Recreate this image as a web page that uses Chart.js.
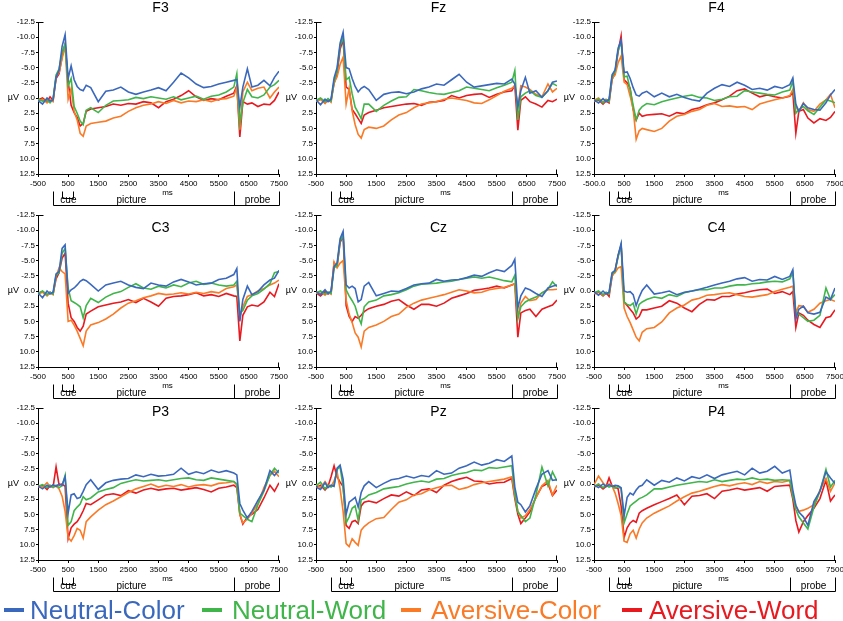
<!DOCTYPE html>
<html>
<head>
<meta charset="utf-8">
<script src="https://cdn.jsdelivr.net/npm/chart.js@4.4.1/dist/chart.umd.min.js"></script>
<style>
body { margin: 0; background: #fff; width: 843px; height: 621px; overflow: hidden; position: relative; font-family: "Liberation Sans", Arial, sans-serif; }
canvas { position: absolute; }
.key { position: absolute; top: 597px; font-size: 26px; line-height: 26px; white-space: nowrap; }
.bar { position: absolute; top: 608px; width: 20px; height: 4px; }
</style>
</head>
<body>
<script>
// sample times (ms) shared by every waveform
const times = [-500,-350,-200,-100,0, 100,200,300,400,500, 600,700,800,900,1000,
  1100,1250,1500,1750,2000, 2250,2500,2750,3000,3250, 3500,3750,4000,4250,4500,
  4750,5000,5250,5500,5750, 6000,6100,6200,6300,6450, 6600,6800,7000,7200,7350, 7500];

const xTicks = [-500, 500, 1500, 2500, 3500, 4500, 5500, 6500, 7500];
const xTickLabels = ['-500', '500', '1500', '2500', '3500', '4500', '5500', '6500', '7500'];
const yTicks = [-12.5, -10, -7.5, -5, -2.5, 0, 2.5, 5, 7.5, 10, 12.5];
const yTickLabels = ['-12.5', '-10.0', '-7.5', '-5.0', '-2.5', '0.0', '2.5', '5.0', '7.5', '10.0', '12.5'];

const electrodes = ['F3', 'Fz', 'F4', 'C3', 'Cz', 'C4', 'P3', 'Pz', 'P4'];
const conditions = ['Neutral-Color', 'Neutral-Word', 'Aversive-Color', 'Aversive-Word'];
const colors = ['#3a68bd', '#3fb54a', '#fa7a26', '#e8191f'];

// phases under each panel (ms)
const phaseEdges = [0, 6000, 7500];
const cueEdges = [300, 667];
const phaseLabels = [['cue', 510], ['picture', 2600], ['probe', 6790]];

// µV, negative up. NC = Neutral-Color, NW = Neutral-Word, AC = Aversive-Color, AW = Aversive-Word
const F3_NC = [0.4,1.0,0.0,0.5,0.3, -3.4,-4.6,-8.5,-10.4,-3.2, -5.3,-3.0,-1.9,-1.4,-1.2, -2.1,-1.7,0.6,-1.1,-1.3, -1.8,-1.0,-0.6,-1.0,-1.3, -1.7,-1.2,-2.6,-4.1,-3.3, -2.3,-1.7,-1.9,-2.3,-2.6, -2.9,-3.0,1.5,-1.8,-4.8, -1.8,-2.1,-2.9,-2.0,-3.4, -4.4];
const F3_NW = [0.2,0.5,0.3,0.8,0.2, -3.8,-4.8,-7.5,-8.9,-2.0, -3.2,1.4,2.5,3.8,4.4, 2.0,1.6,2.4,1.2,0.5, 0.4,0.3,-0.1,0.1,-0.2, 0.0,0.2,-0.2,0.3,0.0, -0.3,0.2,-0.3,-0.5,-1.0, -1.8,-4.0,4.2,0.8,-1.4, -0.2,0.0,-0.5,-1.8,-2.2, -2.9];
const F3_AC = [0.5,0.2,0.8,0.3,0.6, -3.5,-4.2,-6.5,-8.6,0.2, -1.6,2.2,3.6,5.8,6.3, 4.6,4.2,4.0,3.8,3.3, 3.0,2.2,1.6,1.2,1.0, 0.6,0.9,0.4,0.8,0.5, 0.6,0.3,0.6,0.2,0.1, -0.3,-1.8,5.2,-1.0,-2.6, -1.2,-1.6,-1.8,0.0,-1.0, -1.8];
const F3_AW = [0.3,0.0,0.6,-0.2,0.4, -3.2,-4.0,-6.8,-8.9,-2.8, 1.2,2.4,3.2,4.6,4.2, 2.2,1.8,1.6,1.4,1.0, 1.2,0.9,1.0,0.6,0.8, 1.6,0.6,0.2,-0.4,-1.2, -0.2,0.4,0.1,0.3,-0.3, -0.8,-2.0,6.4,0.6,1.0, 0.8,1.4,1.0,1.1,0.4, -1.0];

const Fz_NC = [0.3,1.1,0.2,0.6,0.2, -3.3,-5.0,-9.0,-10.8,-5.0, -4.8,-3.2,-1.9,-1.0,-1.6, -1.9,-1.4,0.4,-0.6,-0.9, -1.0,-0.7,-1.0,-1.5,-1.8, -2.3,-2.1,-3.0,-3.9,-2.6, -1.8,-2.0,-2.2,-2.4,-2.3, -3.1,-2.3,1.5,-1.2,-3.4, -0.8,-1.2,-0.1,-1.2,-2.6, -2.8];
const Fz_NW = [0.4,0.0,0.6,0.1,0.5, -2.8,-4.5,-8.6,-10.0,-3.0, -3.4,-0.7,1.5,2.4,3.4, 1.0,1.0,2.2,1.2,0.5, -0.1,-0.2,-1.4,-1.2,-0.9, -0.7,-0.6,-0.9,-1.2,-1.8, -1.6,-1.4,-1.2,-1.7,-2.1, -2.6,-4.5,3.6,-0.2,-0.8, -1.2,-0.4,-0.1,-1.2,-2.4, -2.0];
const Fz_AC = [0.6,0.2,0.9,0.3,0.7, -2.5,-3.5,-5.5,-6.7,1.0, -1.6,2.1,4.4,6.0,6.6, 5.2,4.8,5.0,4.6,3.6, 2.8,2.4,1.6,1.0,0.8, 0.6,0.2,0.0,0.2,0.4, 0.8,0.9,0.3,-0.4,-1.1, -1.6,-2.0,1.5,-2.0,-1.8, -1.4,-0.6,-0.2,-2.3,-1.0, -1.6];
const Fz_AW = [0.5,0.2,0.8,0.4,0.3, -2.4,-4.0,-8.0,-9.6,-1.8, -1.4,1.9,2.6,3.4,4.2, 2.8,2.4,2.0,1.6,1.4, 1.2,1.0,0.9,1.2,0.7, 0.6,0.4,-0.4,0.0,-0.4, -0.6,-0.7,-0.1,-0.6,-1.0, -1.2,-2.1,5.3,0.4,-0.2, 0.6,1.0,1.5,0.4,0.6, 0.2];

const F4_NC = [0.3,0.8,0.1,0.6,0.2, -3.8,-4.6,-8.2,-9.5,-4.2, -4.3,-3.2,-1.7,-0.5,-0.3, -0.8,-1.1,-0.2,-0.8,-0.2, -0.6,-0.1,0.3,0.5,-0.8, -1.6,-2.2,-1.9,-2.6,-2.1, -1.4,-1.6,-1.3,-1.9,-1.6, -2.2,-3.3,1.0,2.2,0.9, 1.6,1.9,2.0,0.8,-0.5, -1.4];
const F4_NW = [0.5,0.2,0.8,0.3,0.6, -3.5,-4.4,-7.8,-9.2,-3.5, -3.6,-1.4,1.2,3.6,2.0, 1.4,0.9,1.1,0.6,0.3, 0.0,-0.3,-0.5,-0.1,0.0, 0.4,0.2,-0.2,-0.3,-1.2, -1.0,-0.8,-0.6,-0.5,-1.0, -1.3,-2.8,2.5,1.9,1.4, 2.1,2.7,1.5,0.3,0.5, 0.8];
const F4_AC = [0.4,0.0,0.7,0.2,0.5, -3.2,-3.8,-5.8,-6.9,-2.6, -2.2,-0.3,1.8,6.8,5.4, 5.0,5.2,5.5,5.0,3.8, 3.0,2.7,2.2,1.9,1.2, 0.9,1.4,1.3,1.5,1.4, 1.9,1.0,0.6,0.3,0.0, -0.4,-1.4,1.4,2.2,0.8, 1.9,2.2,1.0,0.3,-0.6, 1.6];
const F4_AW = [0.6,0.3,1.0,0.5,0.8, -3.0,-4.2,-7.6,-10.2,-3.0, -2.5,-1.6,1.9,3.6,2.5, 3.0,2.8,2.7,2.6,3.0, 2.4,2.6,1.9,1.6,1.1, 0.8,0.3,-0.3,-1.2,-1.5, -0.8,-0.2,-0.5,-0.2,0.0, -0.3,-0.9,5.8,2.2,1.9, 3.3,4.1,3.4,3.7,3.2, 2.2];

const C3_NC = [0.3,1.1,0.0,0.5,0.2, -2.8,-3.2,-7.0,-7.6,0.4, -0.2,-0.5,-1.0,-1.6,-1.9, -1.7,-1.1,0.0,-1.0,-1.3, -1.6,-1.0,-0.6,-0.4,-1.3, -1.0,-0.8,-1.5,-1.9,-1.5, -1.0,-1.2,-1.3,-1.9,-2.1, -2.7,-3.7,5.0,1.4,-0.8, 0.6,0.1,-1.0,-1.8,-2.1, -3.4];
const C3_NW = [0.4,0.0,0.6,0.2,0.5, -2.6,-3.0,-6.2,-7.0,-0.5, 1.6,1.9,2.2,2.6,4.4, 2.4,1.2,1.9,1.0,0.4, 0.1,-0.6,-1.2,-0.5,-0.3, -0.8,-0.5,-1.0,-0.7,-1.3, -1.6,-1.1,-1.3,-1.0,-0.8, -1.0,-1.6,3.6,3.2,1.5, 0.8,0.4,-0.3,-1.2,-3.0, -3.2];
const C3_AC = [0.5,0.2,0.8,0.3,0.6, -2.4,-3.8,-3.2,-2.8,5.0, 4.8,5.6,6.6,7.8,9.0, 6.6,5.6,5.2,4.6,3.8, 2.8,2.0,1.6,1.1,0.8, 0.4,0.6,0.5,0.3,0.5, 0.2,0.4,0.1,0.3,-0.4, -0.7,-1.0,4.2,2.6,0.9, 0.6,0.0,-0.4,-1.0,-1.3, -1.8];
const C3_AW = [0.4,0.1,0.7,0.2,0.5, -2.0,-3.0,-5.4,-6.2,2.0, 4.4,5.0,6.0,6.6,5.8, 3.8,3.3,2.6,2.3,2.0, 1.8,1.4,1.9,1.2,1.8, 2.5,1.2,0.9,0.8,0.6, 0.3,0.8,0.6,0.9,0.4, 0.8,0.9,8.2,4.0,2.6, 2.3,2.5,1.8,0.2,0.9, -1.2];

const Cz_NC = [0.1,0.6,-0.2,0.4,0.0, -4.0,-4.6,-8.6,-9.8,-1.0, -0.5,-0.8,-0.4,1.8,1.4, -0.8,-1.4,0.8,0.4,0.0, 0.1,-0.4,-1.0,-1.2,-1.3, -1.9,-1.6,-1.8,-1.9,-2.2, -2.6,-2.4,-3.0,-3.5,-3.2, -4.2,-5.2,2.8,0.8,-0.5, -0.2,0.4,0.9,-0.5,-0.8, -1.0];
const Cz_NW = [0.3,0.0,0.5,0.2,0.4, -3.8,-4.2,-8.2,-9.2,-0.2, 0.8,1.6,2.5,4.2,5.4, 2.6,1.8,1.5,0.8,0.6, 0.3,-0.2,-0.8,-1.1,-1.2, -1.3,-1.5,-1.6,-1.9,-2.1, -2.3,-2.1,-2.3,-2.0,-1.7, -1.5,-2.6,4.6,2.6,1.8, 1.4,1.0,0.3,-0.3,-1.5, -0.7];
const Cz_AC = [0.4,0.1,0.7,0.2,0.5, -4.8,-3.8,-4.6,-5.0,1.5, 3.8,5.2,6.9,7.6,9.2, 6.6,6.0,5.6,5.0,4.2, 3.8,2.7,2.0,1.5,1.2, 0.9,0.6,0.2,-0.2,0.0, 0.3,0.2,-0.2,-0.4,-0.6, -1.0,-1.2,4.2,2.0,0.9, 1.6,1.4,0.3,-0.2,-0.2, -0.3];
const Cz_AW = [0.3,0.8,0.1,0.5,0.2, -4.6,-4.0,-8.0,-9.0,2.4, 4.2,5.0,4.2,4.5,4.0, 3.4,2.9,2.5,2.2,1.7, 1.4,2.3,3.0,2.2,2.2, 2.5,2.0,1.2,0.8,0.4, -0.1,-0.3,-0.5,-0.8,-0.5, -1.0,-1.2,7.6,3.6,3.2, 3.0,4.2,3.0,2.6,2.3, 1.5];

const C4_NC = [0.1,0.7,0.0,0.5,0.2, -3.0,-3.4,-5.9,-7.8,0.0, 0.2,0.1,0.6,2.4,1.0, -0.1,-1.0,0.5,0.3,0.0, 0.6,0.2,0.0,-0.3,-0.6, -1.0,-1.3,-1.6,-2.0,-2.2, -1.6,-1.9,-1.8,-2.4,-1.9, -2.4,-3.5,4.6,3.0,2.5, 3.6,3.8,3.5,1.0,1.4, -0.5];
const C4_NW = [0.3,0.0,0.6,0.2,0.5, -2.8,-3.2,-5.6,-7.6,1.8, 2.2,2.4,2.0,3.8,2.2, 1.8,1.4,1.0,1.2,0.6, 0.9,0.3,0.0,-0.2,-0.2, -0.5,-0.5,-0.8,-1.0,-1.0, -1.2,-1.3,-1.5,-1.6,-1.5, -2.0,-3.0,3.6,3.8,4.4, 5.0,4.8,4.0,-0.5,1.4, 0.6];
const C4_AC = [0.4,0.1,0.7,0.3,0.4, -2.6,-3.0,-3.8,-4.0,2.8, 4.2,5.2,6.4,7.6,8.2, 6.8,6.2,6.0,5.1,3.6, 2.8,2.3,1.5,1.2,0.7, 0.6,0.4,0.3,0.6,0.9, 1.0,0.8,0.6,0.1,-0.3, -0.6,-0.8,3.6,2.4,2.5, 3.5,3.0,2.0,1.6,1.4, 1.7];
const C4_AW = [0.5,0.2,0.8,0.3,0.9, -2.4,-3.4,-5.8,-7.5,1.8, 2.4,3.0,3.6,4.6,4.2, 3.1,3.1,2.8,2.5,1.6, 2.0,2.8,3.4,2.2,1.4, 1.5,0.9,0.9,0.5,0.3, 0.0,-0.2,-0.3,0.4,0.1, 0.6,0.1,6.0,3.6,4.0, 4.8,5.5,6.0,4.4,4.2, 3.1];

const P3_NC = [0.3,0.8,0.2,0.5,0.1, 0.4,0.0,0.2,-1.2,4.8, 1.8,1.6,2.4,2.2,1.2, 0.1,-0.7,0.9,-0.2,-0.6, -0.8,-0.9,-1.5,-1.2,-1.6, -1.3,-1.4,-1.6,-2.6,-1.6, -2.0,-1.7,-2.3,-1.9,-2.2, -1.8,-1.5,3.2,4.3,5.6, 4.5,2.7,1.0,-2.2,-1.4, -2.3];
const P3_NW = [0.4,0.1,0.6,0.2,0.5, 0.2,0.6,0.3,-1.4,6.8, 6.2,4.4,3.8,3.3,2.1, 2.6,2.3,1.3,0.9,0.6, -0.1,-0.4,-0.7,-0.5,-0.6, -0.7,-0.5,-0.7,-0.9,-1.0, -0.7,-0.6,-1.0,-0.8,-0.6, -0.4,0.0,4.8,5.2,5.8, 6.2,3.4,1.2,-1.5,-2.6, -1.8];
const P3_AC = [0.2,0.5,-0.2,0.4,0.6, 0.3,0.8,2.0,4.5,8.8, 9.4,8.5,7.3,7.6,8.9, 6.2,5.4,4.3,3.4,2.8, 2.1,1.4,0.8,0.4,0.0, 0.5,0.2,0.4,0.1,0.5, 0.2,0.1,0.3,-0.1,-0.2, -0.4,0.2,5.0,6.4,5.8, 4.8,3.2,0.6,-1.4,-2.1, -1.2];
const P3_AW = [0.6,0.2,0.9,0.3,0.5, -2.8,0.2,0.0,0.4,9.0, 7.2,6.6,6.2,5.4,4.4, 3.2,3.4,2.6,1.8,1.6, 1.9,1.1,1.5,1.0,0.7, 1.0,0.8,0.7,1.0,0.8, 0.6,0.9,1.3,0.7,0.5, 0.2,0.6,5.0,6.6,5.4, 5.0,4.2,2.3,0.2,1.2, -0.2];

const Pz_NC = [0.5,0.9,-0.2,0.6,0.2, 0.4,-2.6,-3.1,-0.8,5.0, 3.0,2.6,2.2,3.8,1.4, 0.3,-0.4,0.6,-0.1,-0.7, -0.9,-1.3,-1.0,-1.4,-1.2, -2.2,-1.6,-1.8,-2.6,-3.0, -3.6,-3.1,-3.4,-4.0,-3.7, -4.6,0.5,3.0,3.4,4.6, 3.6,0.8,-1.6,-2.2,-0.6, -0.7];
const Pz_NW = [0.3,-0.3,0.8,0.2,0.5, 0.1,-2.4,-2.8,0.5,6.4, 5.4,4.0,3.6,6.0,2.6, 2.4,1.8,1.4,0.8,0.6, 0.4,0.0,-0.3,-0.5,-0.3, -0.8,-0.9,-1.4,-1.7,-1.9, -2.3,-2.2,-2.7,-2.6,-2.8, -3.0,1.5,4.6,5.2,6.2, 5.6,1.8,-2.8,0.3,-2.0, -0.5];
const Pz_AC = [0.0,0.6,-0.4,0.3,0.4, -0.5,-2.0,0.8,4.5,9.8, 10.3,9.0,9.6,10.1,7.6, 7.0,6.4,5.7,5.5,4.2, 3.0,2.6,1.8,1.6,1.0, 0.6,0.3,0.2,0.9,0.6, 0.1,-0.2,-0.4,-0.6,-0.8, -1.2,2.0,4.4,5.6,5.2, 4.2,2.3,0.3,-0.6,1.8, 0.2];
const Pz_AW = [0.6,0.2,1.0,0.4,-1.2, -3.0,-1.2,-0.3,0.4,6.8, 7.3,6.2,6.0,6.5,3.6, 3.0,2.8,3.1,2.4,1.8, 2.0,1.3,1.9,1.0,0.8, 1.4,0.2,-0.4,-0.8,-1.1, -0.5,-0.4,0.0,-0.2,-0.3, -0.9,2.4,5.0,6.5,5.6, 4.6,2.2,0.4,-0.1,1.9, 1.0];

const P4_NC = [0.2,0.6,0.0,0.4,0.1, 0.4,0.2,0.3,0.6,5.2, 2.2,1.5,1.8,1.0,0.4, 0.2,-0.7,0.2,-0.6,-0.3, -1.0,-0.5,-1.2,-0.9,-1.5, -0.9,-1.5,-1.8,-2.1,-1.5, -2.6,-1.8,-2.1,-2.9,-1.8, -2.3,1.0,3.5,4.6,5.4, 6.8,2.9,1.2,-2.0,-1.0, -0.1];
const P4_NW = [0.4,0.0,0.6,0.2,0.5, 0.3,0.7,0.4,0.8,6.4, 4.9,3.6,3.2,2.8,2.4, 2.2,1.8,0.8,0.8,0.5, 0.2,0.0,-0.2,-0.4,-0.3, -0.7,-0.4,-0.6,-0.8,-0.7, -1.0,-0.7,-0.8,-0.6,-0.7, -0.6,2.0,4.2,5.4,6.4, 7.4,3.8,1.2,-2.4,0.5, -0.6];
const P4_AC = [0.1,-1.3,-0.2,0.4,0.0, 0.3,1.5,3.2,5.2,9.4, 9.6,8.2,7.6,8.9,7.4, 6.4,5.6,4.8,4.2,3.6, 2.8,2.1,1.5,1.2,0.8, 0.4,0.1,0.3,0.0,-0.2, 0.1,-0.4,-0.1,-0.4,-0.3, -0.6,2.0,3.6,4.5,4.3, 4.0,3.4,1.0,-0.9,1.2, -0.2];
const P4_AW = [0.5,0.2,0.8,0.4,-1.0, 0.3,0.5,0.8,3.6,8.8, 7.2,6.4,6.0,6.3,4.8, 4.4,4.0,3.4,2.9,2.4, 1.8,3.4,2.0,1.9,1.6, 2.4,1.2,1.0,0.7,1.0, 0.8,0.6,1.2,0.4,0.3, 0.2,2.5,6.0,7.9,6.2, 5.2,4.0,2.4,-0.6,2.8, 1.8];

const panelSeries = {
  F3: [F3_NC, F3_NW, F3_AC, F3_AW], Fz: [Fz_NC, Fz_NW, Fz_AC, Fz_AW], F4: [F4_NC, F4_NW, F4_AC, F4_AW],
  C3: [C3_NC, C3_NW, C3_AC, C3_AW], Cz: [Cz_NC, Cz_NW, Cz_AC, Cz_AW], C4: [C4_NC, C4_NW, C4_AC, C4_AW],
  P3: [P3_NC, P3_NW, P3_AC, P3_AW], Pz: [Pz_NC, Pz_NW, Pz_AC, Pz_AW], P4: [P4_NC, P4_NW, P4_AC, P4_AW]
};

// page layout
const colX = [38, 316, 594];
const rowY = [22, 215, 408];
const titleDy = [-14, 13, 4];
const plotW = 241, plotH = 152;
const padTop = 22, padRight = 14, axisW = 38, axisH = 40;
const FONT = '"Liberation Sans", Arial, sans-serif';

Chart.defaults.font.family = FONT;

const decor = {
  id: 'decor',
  afterDraw(chart, args, opts) {
    const { ctx, chartArea: a, scales: { x, y } } = chart;
    const px = v => Math.round(x.getPixelForValue(v)) + 0.5;
    const line = (x1, y1, x2, y2) => { ctx.beginPath(); ctx.moveTo(x1, y1); ctx.lineTo(x2, y2); ctx.stroke(); };
    ctx.save();
    ctx.fillStyle = '#000';
    ctx.strokeStyle = '#000';
    ctx.lineWidth = 1;

    ctx.textAlign = 'center';
    ctx.textBaseline = 'middle';
    ctx.font = '14px ' + FONT;
    ctx.fillText(opts.title, (a.left + a.right) / 2 + 2, a.top + opts.titleDy);

    ctx.font = '9px ' + FONT;
    ctx.textAlign = 'right';
    ctx.fillText('µV', a.left - 19, y.getPixelForValue(0));

    ctx.textAlign = 'center';
    ctx.font = '8px ' + FONT;
    ctx.fillText('ms', x.getPixelForValue(3800), a.bottom + 19);

    // little end marks on the axes
    const L = Math.round(a.left) + 0.5, B = Math.round(a.bottom) + 0.5;
    line(L, Math.round(a.top) + 0.5, L + 5, Math.round(a.top) + 0.5);
    line(Math.round(a.right) - 0.5, B, Math.round(a.right) - 0.5, B - 5);

    // cue / picture / probe brackets
    const top = Math.round(a.bottom) + 17.5, low = Math.round(a.bottom) + 31.5, cueLow = Math.round(a.bottom) + 24.5;
    phaseEdges.forEach(t => line(px(t), top, px(t), low));
    line(px(phaseEdges[0]), low, px(phaseEdges[phaseEdges.length - 1]), low);
    cueEdges.forEach(t => line(px(t), top, px(t), cueLow));
    line(px(cueEdges[0]), cueLow, px(cueEdges[1]), cueLow);
    ctx.font = '10px ' + FONT;
    phaseLabels.forEach(([txt, t]) => ctx.fillText(txt, x.getPixelForValue(t), a.bottom + 26.5));
    ctx.restore();
  }
};

electrodes.forEach((name, i) => {
  const col = i % 3, row = Math.floor(i / 3);
  const cv = document.createElement('canvas');
  cv.width = axisW + plotW + padRight;
  cv.height = padTop + plotH + axisH;
  cv.style.left = (colX[col] - axisW) + 'px';
  cv.style.top = (rowY[row] - padTop) + 'px';
  document.body.appendChild(cv);

  new Chart(cv, {
    type: 'line',
    data: {
      datasets: panelSeries[name].map((vals, k) => ({
        label: conditions[k],
        data: vals.map((v, j) => ({ x: times[j], y: v })),
        borderColor: colors[k],
        borderWidth: 1.6,
        pointRadius: 0,
        tension: 0,
        fill: false
      }))
    },
    options: {
      responsive: false,
      animation: false,
      events: [],
      layout: { padding: { top: padTop, right: padRight, bottom: 0, left: 0 } },
      plugins: {
        legend: { display: false },
        tooltip: { enabled: false },
        decor: { title: name, titleDy: titleDy[row] }
      },
      scales: {
        x: {
          type: 'linear',
          min: -500,
          max: 7500,
          afterBuildTicks: s => { s.ticks = xTicks.map(value => ({ value })); },
          afterFit: s => { s.height = axisH; s.paddingLeft = 0; s.paddingRight = 0; },
          grid: { drawOnChartArea: false, tickLength: 3, color: '#000' },
          border: { color: '#000' },
          ticks: {
            autoSkip: false,
            maxRotation: 0,
            padding: 2,
            color: '#000',
            font: { size: 8 },
            callback: (v) => (name === 'F4' && v === -500) ? '-500.0' : xTickLabels[xTicks.indexOf(v)]
          }
        },
        y: {
          type: 'linear',
          reverse: true,
          min: -12.5,
          max: 12.5,
          afterBuildTicks: s => { s.ticks = yTicks.map(value => ({ value })); },
          afterFit: s => { s.width = axisW; s.paddingTop = 0; s.paddingBottom = 0; },
          grid: { drawOnChartArea: false, tickLength: 2, color: '#000' },
          border: { color: '#000' },
          ticks: {
            autoSkip: false,
            padding: 1,
            color: '#000',
            font: { size: 8 },
            callback: (v) => yTickLabels[yTicks.indexOf(v)]
          }
        }
      }
    },
    plugins: [decor]
  });
});

// legend along the bottom
const keyBarX = [4, 202, 401, 622];
const keyTextX = [30, 232, 431, 649];
conditions.forEach((c, k) => {
  const bar = document.createElement('div');
  bar.className = 'bar';
  bar.style.left = keyBarX[k] + 'px';
  bar.style.background = colors[k];
  document.body.appendChild(bar);
  const txt = document.createElement('div');
  txt.className = 'key';
  txt.style.left = keyTextX[k] + 'px';
  txt.style.color = colors[k];
  txt.textContent = c;
  document.body.appendChild(txt);
});
</script>
</body>
</html>
